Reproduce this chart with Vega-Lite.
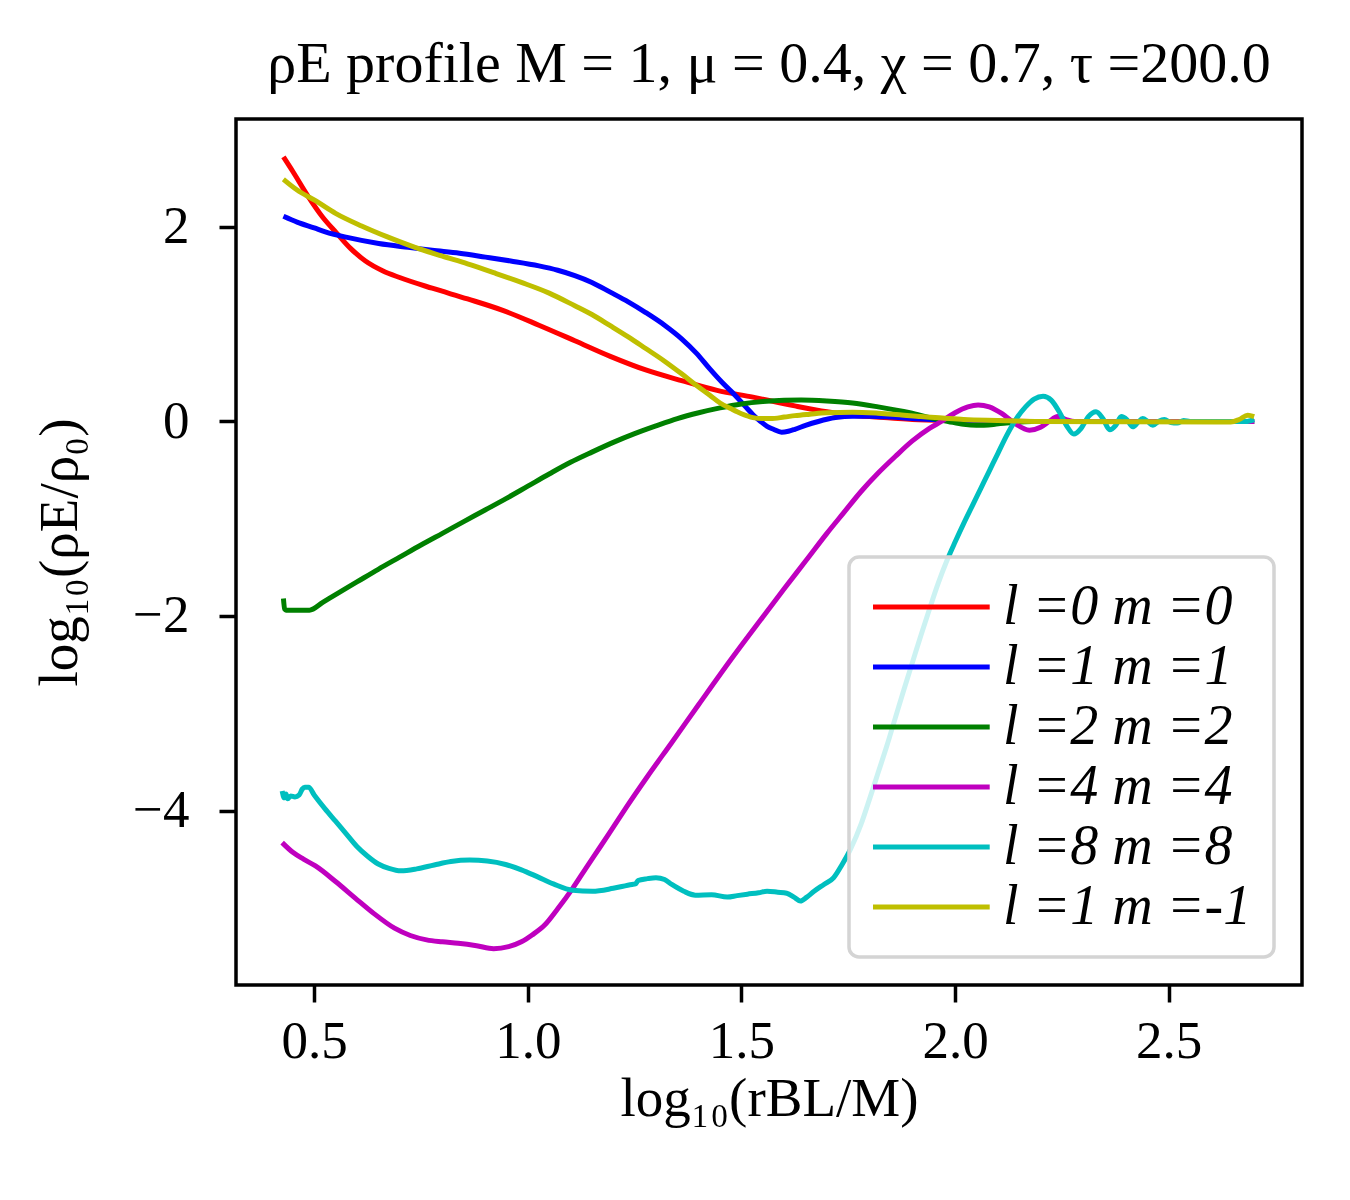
{
"$schema": "https://vega.github.io/schema/vega-lite/v6.json",
"width": 1066, "height": 866,
"autosize": {"type": "none"},
"padding": {"left": 236, "top": 119, "right": 48, "bottom": 215},
"background": "white",
"title": {"text": "ρE profile M = 1, μ = 0.4, χ = 0.7, τ =200.0", "font": "Liberation Serif", "fontSize": 58, "fontWeight": "normal", "color": "black", "baseline": "alphabetic", "offset": 34, "dy": 55, "anchor": "middle"},
"datasets": {
"rows": [
{"s":"l =0 m =0","x":0.428,"y":2.72},{"s":"l =0 m =0","x":0.45,"y":2.57},{"s":"l =0 m =0","x":0.485,"y":2.32},{"s":"l =0 m =0","x":0.52,"y":2.1},{"s":"l =0 m =0","x":0.552,"y":1.94},{"s":"l =0 m =0","x":0.585,"y":1.78},{"s":"l =0 m =0","x":0.62,"y":1.65},{"s":"l =0 m =0","x":0.66,"y":1.55},{"s":"l =0 m =0","x":0.7,"y":1.48},{"s":"l =0 m =0","x":0.776,"y":1.37},{"s":"l =0 m =0","x":0.859,"y":1.26},{"s":"l =0 m =0","x":0.943,"y":1.14},{"s":"l =0 m =0","x":1.026,"y":0.99},{"s":"l =0 m =0","x":1.11,"y":0.83},{"s":"l =0 m =0","x":1.193,"y":0.67},{"s":"l =0 m =0","x":1.276,"y":0.53},{"s":"l =0 m =0","x":1.36,"y":0.42},{"s":"l =0 m =0","x":1.443,"y":0.32},{"s":"l =0 m =0","x":1.527,"y":0.25},{"s":"l =0 m =0","x":1.625,"y":0.16},{"s":"l =0 m =0","x":1.7,"y":0.1},{"s":"l =0 m =0","x":1.75,"y":0.07},{"s":"l =0 m =0","x":1.8,"y":0.05},{"s":"l =0 m =0","x":1.85,"y":0.035},{"s":"l =0 m =0","x":1.9,"y":0.02},{"s":"l =0 m =0","x":2.0,"y":0.01},{"s":"l =0 m =0","x":2.1,"y":0.005},{"s":"l =0 m =0","x":2.2,"y":0.0},{"s":"l =0 m =0","x":2.7,"y":0.0},
{"s":"l =1 m =1","x":0.428,"y":2.11},{"s":"l =1 m =1","x":0.46,"y":2.05},{"s":"l =1 m =1","x":0.5,"y":1.99},{"s":"l =1 m =1","x":0.526,"y":1.95},{"s":"l =1 m =1","x":0.58,"y":1.89},{"s":"l =1 m =1","x":0.651,"y":1.83},{"s":"l =1 m =1","x":0.72,"y":1.79},{"s":"l =1 m =1","x":0.776,"y":1.76},{"s":"l =1 m =1","x":0.84,"y":1.73},{"s":"l =1 m =1","x":0.901,"y":1.69},{"s":"l =1 m =1","x":0.96,"y":1.65},{"s":"l =1 m =1","x":1.026,"y":1.6},{"s":"l =1 m =1","x":1.07,"y":1.555},{"s":"l =1 m =1","x":1.11,"y":1.5},{"s":"l =1 m =1","x":1.15,"y":1.43},{"s":"l =1 m =1","x":1.193,"y":1.33},{"s":"l =1 m =1","x":1.235,"y":1.23},{"s":"l =1 m =1","x":1.276,"y":1.12},{"s":"l =1 m =1","x":1.32,"y":0.99},{"s":"l =1 m =1","x":1.36,"y":0.85},{"s":"l =1 m =1","x":1.395,"y":0.7},{"s":"l =1 m =1","x":1.426,"y":0.54},{"s":"l =1 m =1","x":1.455,"y":0.4},{"s":"l =1 m =1","x":1.485,"y":0.27},{"s":"l =1 m =1","x":1.51,"y":0.15},{"s":"l =1 m =1","x":1.527,"y":0.07},{"s":"l =1 m =1","x":1.545,"y":0.0},{"s":"l =1 m =1","x":1.56,"y":-0.05},{"s":"l =1 m =1","x":1.575,"y":-0.08},{"s":"l =1 m =1","x":1.594,"y":-0.11},{"s":"l =1 m =1","x":1.61,"y":-0.1},{"s":"l =1 m =1","x":1.625,"y":-0.08},{"s":"l =1 m =1","x":1.65,"y":-0.04},{"s":"l =1 m =1","x":1.68,"y":0.0},{"s":"l =1 m =1","x":1.72,"y":0.04},{"s":"l =1 m =1","x":1.76,"y":0.055},{"s":"l =1 m =1","x":1.8,"y":0.055},{"s":"l =1 m =1","x":1.85,"y":0.045},{"s":"l =1 m =1","x":1.9,"y":0.03},{"s":"l =1 m =1","x":1.95,"y":0.02},{"s":"l =1 m =1","x":2.0,"y":0.01},{"s":"l =1 m =1","x":2.1,"y":0.0},{"s":"l =1 m =1","x":2.7,"y":0.0},
{"s":"l =2 m =2","x":0.428,"y":-1.82},{"s":"l =2 m =2","x":0.431,"y":-1.93},{"s":"l =2 m =2","x":0.434,"y":-1.94},{"s":"l =2 m =2","x":0.489,"y":-1.94},{"s":"l =2 m =2","x":0.52,"y":-1.86},{"s":"l =2 m =2","x":0.55,"y":-1.78},{"s":"l =2 m =2","x":0.6,"y":-1.65},{"s":"l =2 m =2","x":0.65,"y":-1.52},{"s":"l =2 m =2","x":0.7,"y":-1.395},{"s":"l =2 m =2","x":0.75,"y":-1.27},{"s":"l =2 m =2","x":0.8,"y":-1.15},{"s":"l =2 m =2","x":0.85,"y":-1.03},{"s":"l =2 m =2","x":0.9,"y":-0.91},{"s":"l =2 m =2","x":0.95,"y":-0.79},{"s":"l =2 m =2","x":1.0,"y":-0.665},{"s":"l =2 m =2","x":1.05,"y":-0.54},{"s":"l =2 m =2","x":1.1,"y":-0.42},{"s":"l =2 m =2","x":1.15,"y":-0.315},{"s":"l =2 m =2","x":1.2,"y":-0.215},{"s":"l =2 m =2","x":1.25,"y":-0.125},{"s":"l =2 m =2","x":1.3,"y":-0.045},{"s":"l =2 m =2","x":1.35,"y":0.03},{"s":"l =2 m =2","x":1.4,"y":0.09},{"s":"l =2 m =2","x":1.45,"y":0.14},{"s":"l =2 m =2","x":1.5,"y":0.18},{"s":"l =2 m =2","x":1.55,"y":0.205},{"s":"l =2 m =2","x":1.6,"y":0.218},{"s":"l =2 m =2","x":1.64,"y":0.22},{"s":"l =2 m =2","x":1.7,"y":0.21},{"s":"l =2 m =2","x":1.76,"y":0.19},{"s":"l =2 m =2","x":1.82,"y":0.15},{"s":"l =2 m =2","x":1.894,"y":0.09},{"s":"l =2 m =2","x":1.95,"y":0.03},{"s":"l =2 m =2","x":1.984,"y":0.0},{"s":"l =2 m =2","x":2.02,"y":-0.03},{"s":"l =2 m =2","x":2.05,"y":-0.04},{"s":"l =2 m =2","x":2.09,"y":-0.03},{"s":"l =2 m =2","x":2.12,"y":-0.015},{"s":"l =2 m =2","x":2.18,"y":0.0},{"s":"l =2 m =2","x":2.7,"y":0.0},
{"s":"l =4 m =4","x":0.425,"y":-4.33},{"s":"l =4 m =4","x":0.45,"y":-4.43},{"s":"l =4 m =4","x":0.475,"y":-4.5},{"s":"l =4 m =4","x":0.503,"y":-4.57},{"s":"l =4 m =4","x":0.55,"y":-4.73},{"s":"l =4 m =4","x":0.596,"y":-4.9},{"s":"l =4 m =4","x":0.64,"y":-5.06},{"s":"l =4 m =4","x":0.688,"y":-5.21},{"s":"l =4 m =4","x":0.725,"y":-5.285},{"s":"l =4 m =4","x":0.763,"y":-5.33},{"s":"l =4 m =4","x":0.8,"y":-5.35},{"s":"l =4 m =4","x":0.837,"y":-5.365},{"s":"l =4 m =4","x":0.88,"y":-5.39},{"s":"l =4 m =4","x":0.92,"y":-5.42},{"s":"l =4 m =4","x":0.955,"y":-5.4},{"s":"l =4 m =4","x":0.985,"y":-5.35},{"s":"l =4 m =4","x":1.01,"y":-5.28},{"s":"l =4 m =4","x":1.04,"y":-5.175},{"s":"l =4 m =4","x":1.07,"y":-5.01},{"s":"l =4 m =4","x":1.105,"y":-4.8},{"s":"l =4 m =4","x":1.135,"y":-4.6},{"s":"l =4 m =4","x":1.17,"y":-4.37},{"s":"l =4 m =4","x":1.2,"y":-4.17},{"s":"l =4 m =4","x":1.23,"y":-3.97},{"s":"l =4 m =4","x":1.28,"y":-3.65},{"s":"l =4 m =4","x":1.337,"y":-3.3},{"s":"l =4 m =4","x":1.4,"y":-2.91},{"s":"l =4 m =4","x":1.475,"y":-2.45},{"s":"l =4 m =4","x":1.55,"y":-2.01},{"s":"l =4 m =4","x":1.6,"y":-1.72},{"s":"l =4 m =4","x":1.652,"y":-1.425},{"s":"l =4 m =4","x":1.7,"y":-1.15},{"s":"l =4 m =4","x":1.739,"y":-0.94},{"s":"l =4 m =4","x":1.78,"y":-0.72},{"s":"l =4 m =4","x":1.82,"y":-0.53},{"s":"l =4 m =4","x":1.86,"y":-0.36},{"s":"l =4 m =4","x":1.9,"y":-0.2},{"s":"l =4 m =4","x":1.94,"y":-0.07},{"s":"l =4 m =4","x":1.968,"y":0.0},{"s":"l =4 m =4","x":2.0,"y":0.09},{"s":"l =4 m =4","x":2.03,"y":0.15},{"s":"l =4 m =4","x":2.054,"y":0.17},{"s":"l =4 m =4","x":2.08,"y":0.15},{"s":"l =4 m =4","x":2.11,"y":0.08},{"s":"l =4 m =4","x":2.14,"y":-0.02},{"s":"l =4 m =4","x":2.174,"y":-0.09},{"s":"l =4 m =4","x":2.2,"y":-0.06},{"s":"l =4 m =4","x":2.22,"y":0.0},{"s":"l =4 m =4","x":2.24,"y":0.05},{"s":"l =4 m =4","x":2.26,"y":0.02},{"s":"l =4 m =4","x":2.28,"y":0.0},{"s":"l =4 m =4","x":2.7,"y":0.0},
{"s":"l =8 m =8","x":0.425,"y":-3.8},{"s":"l =8 m =8","x":0.43,"y":-3.87},{"s":"l =8 m =8","x":0.434,"y":-3.83},{"s":"l =8 m =8","x":0.438,"y":-3.88},{"s":"l =8 m =8","x":0.445,"y":-3.85},{"s":"l =8 m =8","x":0.455,"y":-3.86},{"s":"l =8 m =8","x":0.465,"y":-3.84},{"s":"l =8 m =8","x":0.472,"y":-3.78},{"s":"l =8 m =8","x":0.478,"y":-3.76},{"s":"l =8 m =8","x":0.487,"y":-3.76},{"s":"l =8 m =8","x":0.5,"y":-3.84},{"s":"l =8 m =8","x":0.525,"y":-3.98},{"s":"l =8 m =8","x":0.55,"y":-4.11},{"s":"l =8 m =8","x":0.575,"y":-4.24},{"s":"l =8 m =8","x":0.6,"y":-4.37},{"s":"l =8 m =8","x":0.625,"y":-4.47},{"s":"l =8 m =8","x":0.65,"y":-4.55},{"s":"l =8 m =8","x":0.675,"y":-4.595},{"s":"l =8 m =8","x":0.703,"y":-4.62},{"s":"l =8 m =8","x":0.74,"y":-4.6},{"s":"l =8 m =8","x":0.781,"y":-4.56},{"s":"l =8 m =8","x":0.82,"y":-4.525},{"s":"l =8 m =8","x":0.864,"y":-4.51},{"s":"l =8 m =8","x":0.905,"y":-4.52},{"s":"l =8 m =8","x":0.948,"y":-4.555},{"s":"l =8 m =8","x":0.985,"y":-4.61},{"s":"l =8 m =8","x":1.022,"y":-4.68},{"s":"l =8 m =8","x":1.06,"y":-4.755},{"s":"l =8 m =8","x":1.105,"y":-4.82},{"s":"l =8 m =8","x":1.151,"y":-4.83},{"s":"l =8 m =8","x":1.2,"y":-4.8},{"s":"l =8 m =8","x":1.244,"y":-4.76},{"s":"l =8 m =8","x":1.252,"y":-4.755},{"s":"l =8 m =8","x":1.258,"y":-4.72},{"s":"l =8 m =8","x":1.28,"y":-4.7},{"s":"l =8 m =8","x":1.3,"y":-4.69},{"s":"l =8 m =8","x":1.32,"y":-4.71},{"s":"l =8 m =8","x":1.337,"y":-4.76},{"s":"l =8 m =8","x":1.365,"y":-4.83},{"s":"l =8 m =8","x":1.392,"y":-4.87},{"s":"l =8 m =8","x":1.43,"y":-4.865},{"s":"l =8 m =8","x":1.467,"y":-4.89},{"s":"l =8 m =8","x":1.49,"y":-4.875},{"s":"l =8 m =8","x":1.514,"y":-4.86},{"s":"l =8 m =8","x":1.54,"y":-4.845},{"s":"l =8 m =8","x":1.56,"y":-4.83},{"s":"l =8 m =8","x":1.585,"y":-4.84},{"s":"l =8 m =8","x":1.606,"y":-4.85},{"s":"l =8 m =8","x":1.623,"y":-4.89},{"s":"l =8 m =8","x":1.638,"y":-4.93},{"s":"l =8 m =8","x":1.653,"y":-4.89},{"s":"l =8 m =8","x":1.67,"y":-4.83},{"s":"l =8 m =8","x":1.693,"y":-4.76},{"s":"l =8 m =8","x":1.716,"y":-4.69},{"s":"l =8 m =8","x":1.735,"y":-4.56},{"s":"l =8 m =8","x":1.755,"y":-4.4},{"s":"l =8 m =8","x":1.78,"y":-4.14},{"s":"l =8 m =8","x":1.8,"y":-3.88},{"s":"l =8 m =8","x":1.82,"y":-3.61},{"s":"l =8 m =8","x":1.84,"y":-3.34},{"s":"l =8 m =8","x":1.86,"y":-3.05},{"s":"l =8 m =8","x":1.88,"y":-2.76},{"s":"l =8 m =8","x":1.9,"y":-2.48},{"s":"l =8 m =8","x":1.92,"y":-2.2},{"s":"l =8 m =8","x":1.94,"y":-1.93},{"s":"l =8 m =8","x":1.96,"y":-1.67},{"s":"l =8 m =8","x":1.98,"y":-1.44},{"s":"l =8 m =8","x":2.0,"y":-1.24},{"s":"l =8 m =8","x":2.02,"y":-1.05},{"s":"l =8 m =8","x":2.04,"y":-0.87},{"s":"l =8 m =8","x":2.06,"y":-0.69},{"s":"l =8 m =8","x":2.08,"y":-0.51},{"s":"l =8 m =8","x":2.1,"y":-0.33},{"s":"l =8 m =8","x":2.12,"y":-0.15},{"s":"l =8 m =8","x":2.142,"y":0.02},{"s":"l =8 m =8","x":2.165,"y":0.15},{"s":"l =8 m =8","x":2.185,"y":0.23},{"s":"l =8 m =8","x":2.206,"y":0.26},{"s":"l =8 m =8","x":2.225,"y":0.22},{"s":"l =8 m =8","x":2.245,"y":0.09},{"s":"l =8 m =8","x":2.262,"y":-0.05},{"s":"l =8 m =8","x":2.278,"y":-0.13},{"s":"l =8 m =8","x":2.295,"y":-0.07},{"s":"l =8 m =8","x":2.312,"y":0.05},{"s":"l =8 m =8","x":2.33,"y":0.1},{"s":"l =8 m =8","x":2.346,"y":0.03},{"s":"l =8 m =8","x":2.362,"y":-0.085},{"s":"l =8 m =8","x":2.376,"y":-0.04},{"s":"l =8 m =8","x":2.389,"y":0.05},{"s":"l =8 m =8","x":2.402,"y":0.02},{"s":"l =8 m =8","x":2.416,"y":-0.055},{"s":"l =8 m =8","x":2.428,"y":-0.01},{"s":"l =8 m =8","x":2.439,"y":0.03},{"s":"l =8 m =8","x":2.451,"y":0.0},{"s":"l =8 m =8","x":2.463,"y":-0.04},{"s":"l =8 m =8","x":2.476,"y":0.0},{"s":"l =8 m =8","x":2.49,"y":0.02},{"s":"l =8 m =8","x":2.505,"y":-0.01},{"s":"l =8 m =8","x":2.52,"y":-0.015},{"s":"l =8 m =8","x":2.535,"y":0.01},{"s":"l =8 m =8","x":2.55,"y":0.0},{"s":"l =8 m =8","x":2.68,"y":0.0},{"s":"l =8 m =8","x":2.7,"y":0.02},
{"s":"l =1 m =-1","x":0.428,"y":2.49},{"s":"l =1 m =-1","x":0.46,"y":2.38},{"s":"l =1 m =-1","x":0.503,"y":2.27},{"s":"l =1 m =-1","x":0.55,"y":2.14},{"s":"l =1 m =-1","x":0.611,"y":2.01},{"s":"l =1 m =-1","x":0.67,"y":1.9},{"s":"l =1 m =-1","x":0.736,"y":1.79},{"s":"l =1 m =-1","x":0.8,"y":1.7},{"s":"l =1 m =-1","x":0.859,"y":1.62},{"s":"l =1 m =-1","x":0.92,"y":1.53},{"s":"l =1 m =-1","x":0.985,"y":1.43},{"s":"l =1 m =-1","x":1.05,"y":1.32},{"s":"l =1 m =-1","x":1.11,"y":1.19},{"s":"l =1 m =-1","x":1.15,"y":1.1},{"s":"l =1 m =-1","x":1.193,"y":0.985},{"s":"l =1 m =-1","x":1.235,"y":0.87},{"s":"l =1 m =-1","x":1.276,"y":0.75},{"s":"l =1 m =-1","x":1.32,"y":0.62},{"s":"l =1 m =-1","x":1.36,"y":0.49},{"s":"l =1 m =-1","x":1.395,"y":0.37},{"s":"l =1 m =-1","x":1.426,"y":0.27},{"s":"l =1 m =-1","x":1.45,"y":0.19},{"s":"l =1 m =-1","x":1.476,"y":0.13},{"s":"l =1 m =-1","x":1.5,"y":0.08},{"s":"l =1 m =-1","x":1.527,"y":0.04},{"s":"l =1 m =-1","x":1.55,"y":0.03},{"s":"l =1 m =-1","x":1.568,"y":0.03},{"s":"l =1 m =-1","x":1.6,"y":0.045},{"s":"l =1 m =-1","x":1.625,"y":0.06},{"s":"l =1 m =-1","x":1.66,"y":0.075},{"s":"l =1 m =-1","x":1.7,"y":0.09},{"s":"l =1 m =-1","x":1.76,"y":0.095},{"s":"l =1 m =-1","x":1.82,"y":0.085},{"s":"l =1 m =-1","x":1.87,"y":0.07},{"s":"l =1 m =-1","x":1.92,"y":0.05},{"s":"l =1 m =-1","x":1.97,"y":0.035},{"s":"l =1 m =-1","x":2.02,"y":0.02},{"s":"l =1 m =-1","x":2.1,"y":0.01},{"s":"l =1 m =-1","x":2.2,"y":0.0},{"s":"l =1 m =-1","x":2.645,"y":-0.005},{"s":"l =1 m =-1","x":2.665,"y":0.02},{"s":"l =1 m =-1","x":2.685,"y":0.065},{"s":"l =1 m =-1","x":2.7,"y":0.05}
]
},
"data": {"name": "rows"},
"mark": {"type": "line", "strokeWidth": 5, "interpolate": "monotone", "clip": true},
"encoding": {
"x": {"field": "x", "type": "quantitative", "scale": {"domain": [0.317, 2.812], "nice": false, "zero": false},
"axis": {"values": [0.5, 1, 1.5, 2, 2.5], "format": ".1f", "title": "log₁₀(rBL/M)", "labelPadding": 13, "titlePadding": 4}},
"y": {"field": "y", "type": "quantitative", "scale": {"domain": [-5.794, 3.11], "nice": false, "zero": false},
"axis": {"values": [-4, -2, 0, 2], "format": "d", "title": "log₁₀(ρE/ρ₀)", "labelPadding": 30, "titlePadding": 44}},
"color": {"field": "s", "type": "nominal",
"scale": {"domain": ["l =0 m =0", "l =1 m =1", "l =2 m =2", "l =4 m =4", "l =8 m =8", "l =1 m =-1"], "range": ["#ff0000", "#0000ff", "#008000", "#bf00bf", "#00bfbf", "#bfbf00"]},
"legend": {"title": null, "orient": "bottom-right", "offset": 28, "fillColor": "rgba(255,255,255,0.8)", "strokeColor": "#d4d4d4", "cornerRadius": 10, "padding": 22, "symbolType": "M-1.733,0H6.047", "symbolSize": 900, "symbolStrokeWidth": 5, "labelFont": "Liberation Serif", "labelFontSize": 56, "labelFontStyle": "italic", "labelColor": "black", "labelOffset": 76, "labelLimit": 500, "rowPadding": 4,
"encode": {"legend": {"update": {"strokeWidth": {"value": 3.5}}}}}}
},
"config": {
"view": {"stroke": "black", "strokeWidth": 3.5},
"axis": {"grid": false, "domain": false, "tickSize": 17, "tickWidth": 3.5, "tickColor": "black", "labelFont": "Liberation Serif", "labelFontSize": 53, "labelColor": "black", "titleFont": "Liberation Serif", "titleFontSize": 55, "titleFontWeight": "normal", "titleColor": "black"}
}
}
